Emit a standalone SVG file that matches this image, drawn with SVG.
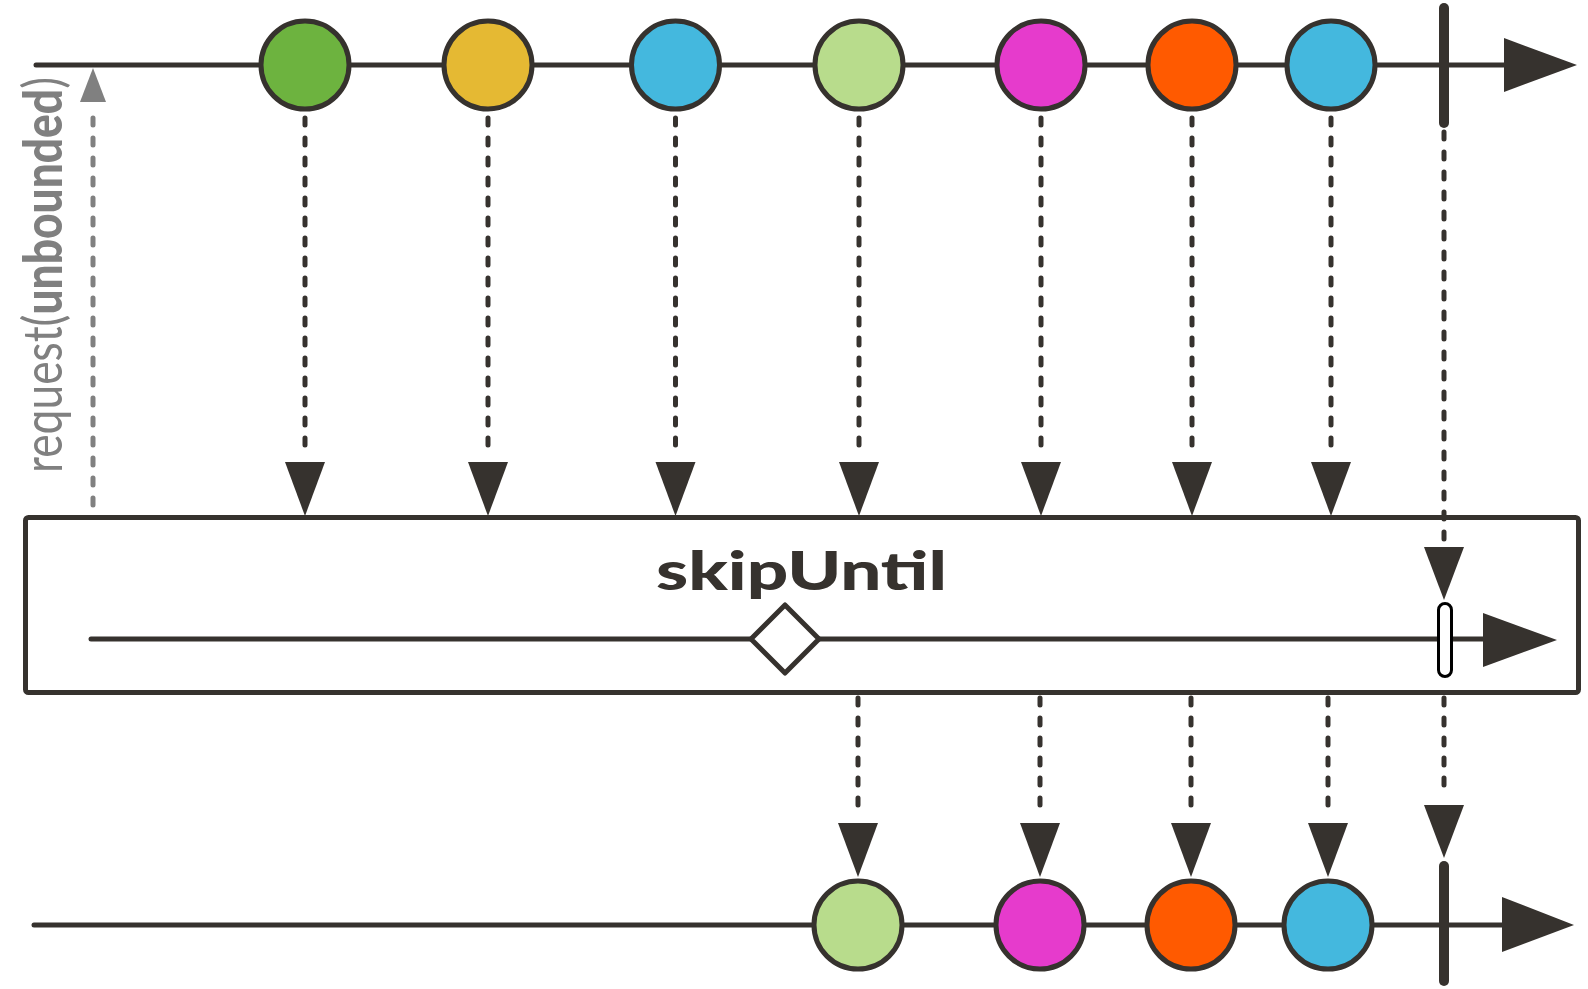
<svg xmlns="http://www.w3.org/2000/svg" width="1588" height="989" viewBox="0 0 1588 989">
<style>
.line{stroke:#36322e;stroke-width:5;fill:none;stroke-linecap:round}
.dash{stroke:#36322e;stroke-width:5;fill:none;stroke-linecap:round;stroke-dasharray:7 13}
.gdash{stroke:#808080;stroke-width:5;fill:none;stroke-linecap:round;stroke-dasharray:7 13}
.head{fill:#36322e}
.ghead{fill:#808080}
.ball{stroke:#36322e;stroke-width:5}
.bar{stroke:#36322e;stroke-width:10;stroke-linecap:round}
.title{font-family:Lato,"Liberation Sans",sans-serif;font-weight:900;font-size:53px;fill:#36322e}
.req{font-family:Lato,"Liberation Sans",sans-serif;font-size:40px;fill:#808080}
</style>
<rect width="1588" height="989" fill="#ffffff"/>
<g id="source-timeline">
<line class="line" x1="36" y1="65" x2="1506" y2="65"/>
<polygon class="head" points="1504,38 1577,65 1504,92"/>
<line class="bar" x1="1444" y1="8" x2="1444" y2="123"/>
</g>
<g id="connectors">
<line class="gdash" x1="93" y1="505" x2="93" y2="108"/>
<polygon class="ghead" points="80,102 93,68 106,102"/>
<line class="dash" x1="305" y1="118" x2="305" y2="455"/>
<polygon class="head" points="285,462 325,462 305,516"/>
<line class="dash" x1="488" y1="118" x2="488" y2="455"/>
<polygon class="head" points="468,462 508,462 488,516"/>
<line class="dash" x1="675.5" y1="118" x2="675.5" y2="455"/>
<polygon class="head" points="655.5,462 695.5,462 675.5,516"/>
<line class="dash" x1="859" y1="118" x2="859" y2="455"/>
<polygon class="head" points="839,462 879,462 859,516"/>
<line class="dash" x1="1041" y1="118" x2="1041" y2="455"/>
<polygon class="head" points="1021,462 1061,462 1041,516"/>
<line class="dash" x1="1192" y1="118" x2="1192" y2="455"/>
<polygon class="head" points="1172,462 1212,462 1192,516"/>
<line class="dash" x1="1331" y1="118" x2="1331" y2="455"/>
<polygon class="head" points="1311,462 1351,462 1331,516"/>
<line class="dash" x1="1444" y1="132" x2="1444" y2="540"/>
<polygon class="head" points="1424,547 1464,547 1444,600"/>
<line class="dash" x1="858" y1="698" x2="858" y2="815"/>
<polygon class="head" points="838,823 878,823 858,877"/>
<line class="dash" x1="1040" y1="698" x2="1040" y2="815"/>
<polygon class="head" points="1020,823 1060,823 1040,877"/>
<line class="dash" x1="1191" y1="698" x2="1191" y2="815"/>
<polygon class="head" points="1171,823 1211,823 1191,877"/>
<line class="dash" x1="1328" y1="698" x2="1328" y2="815"/>
<polygon class="head" points="1308,823 1348,823 1328,877"/>
<line class="dash" x1="1444" y1="698" x2="1444" y2="798"/>
<polygon class="head" points="1424,805 1464,805 1444,858"/>
</g>
<g id="request-label">
<text class="req" transform="translate(62,473) scale(1.35,1) rotate(-90)" textLength="396" lengthAdjust="spacingAndGlyphs">request(<tspan font-weight="900">unbounded</tspan>)</text>
</g>
<g id="ball-1"><circle class="ball" cx="305" cy="65" r="44" fill="#6db33f"/></g>
<g id="ball-2"><circle class="ball" cx="488" cy="65" r="44" fill="#e5b933"/></g>
<g id="ball-3"><circle class="ball" cx="675.5" cy="65" r="44" fill="#44b8de"/></g>
<g id="ball-4"><circle class="ball" cx="859" cy="65" r="44" fill="#b8dc8c"/></g>
<g id="ball-5"><circle class="ball" cx="1041" cy="65" r="44" fill="#e63bcc"/></g>
<g id="ball-6"><circle class="ball" cx="1192" cy="65" r="44" fill="#ff5a00"/></g>
<g id="ball-7"><circle class="ball" cx="1331" cy="65" r="44" fill="#44b8de"/></g>
<g id="operator">
<rect x="25.5" y="517.5" width="1553" height="175" rx="3" fill="none" stroke="#36322e" stroke-width="5"/>
<text class="title" x="656" y="590" textLength="291" lengthAdjust="spacingAndGlyphs">skipUntil</text>
<line class="line" x1="91" y1="639" x2="1486" y2="639"/>
<polygon class="head" points="1483,613 1557,640 1483,667"/>
<path d="M785,605 L819,639 L785,673 L751,639 Z" fill="#ffffff" stroke="#36322e" stroke-width="5" stroke-linejoin="round"/>
<rect x="1438.5" y="603.5" width="13" height="73" rx="6.5" fill="#ffffff" stroke="#000000" stroke-width="3"/>
</g>
<g id="result-timeline">
<line class="line" x1="34" y1="925" x2="1505" y2="925"/>
<polygon class="head" points="1502,897 1574,925 1502,952"/>
<line class="bar" x1="1444" y1="866" x2="1444" y2="981"/>
</g>
<g id="out-ball-1"><circle class="ball" cx="858" cy="925" r="44" fill="#b8dc8c"/></g>
<g id="out-ball-2"><circle class="ball" cx="1040" cy="925" r="44" fill="#e63bcc"/></g>
<g id="out-ball-3"><circle class="ball" cx="1191" cy="925" r="44" fill="#ff5a00"/></g>
<g id="out-ball-4"><circle class="ball" cx="1328" cy="925" r="44" fill="#44b8de"/></g>
</svg>
